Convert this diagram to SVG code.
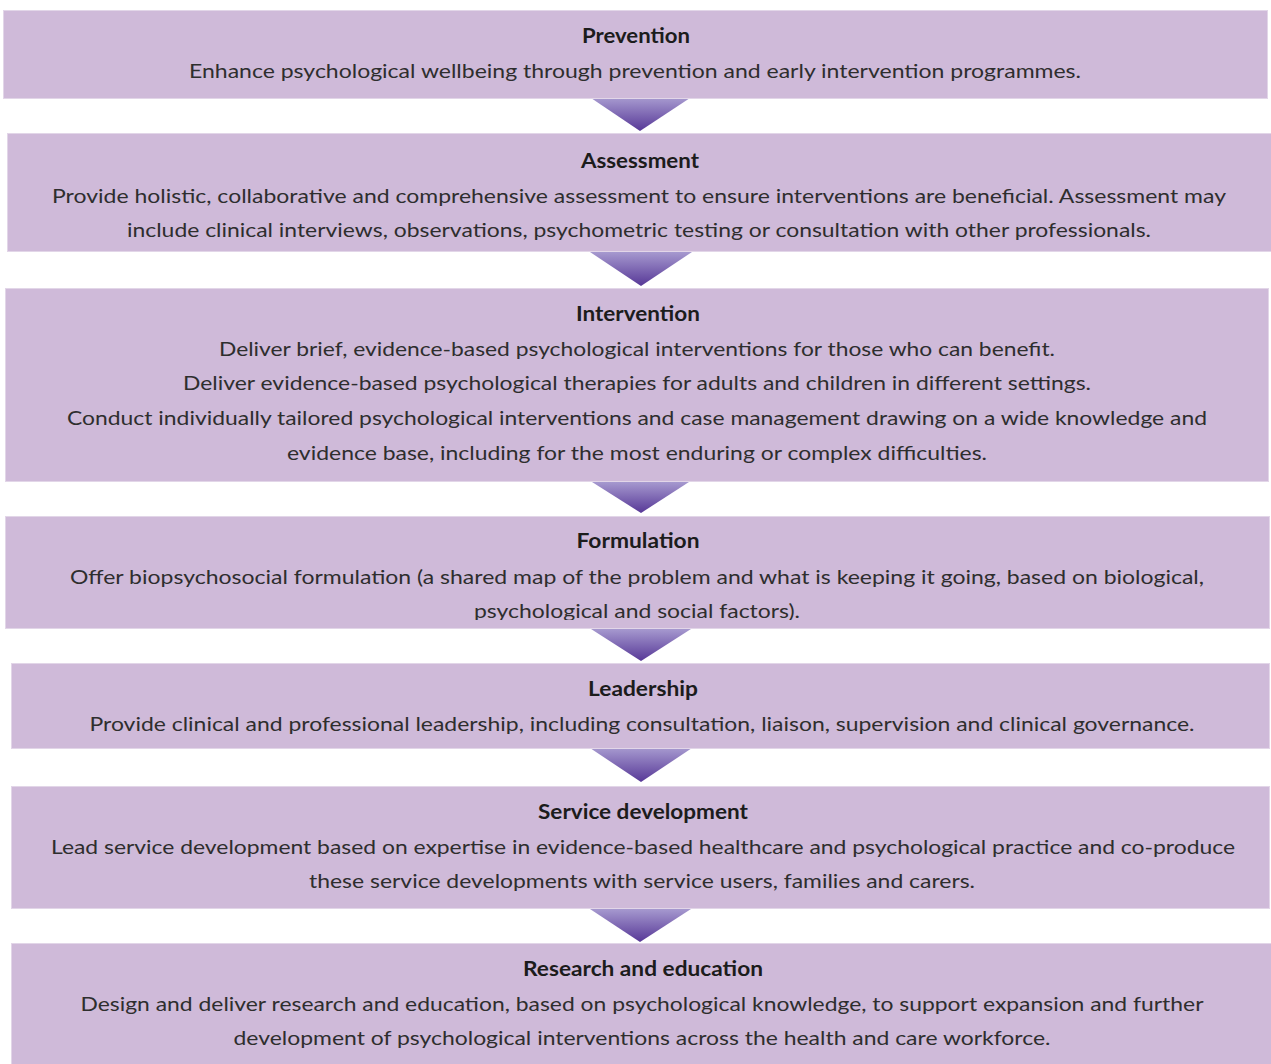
<svg xmlns="http://www.w3.org/2000/svg" width="1271" height="1064" viewBox="0 0 1271 1064">
  <style>
    .box { fill: #cfbad9; stroke: #e2d6e8; stroke-width: 1; }
    .head { font-family: Lato, "Open Sans", sans-serif; font-weight: bold; font-size: 20px; fill: #1c1c1c; text-anchor: middle; }
    .body { font-family: Lato, "Open Sans", sans-serif; font-size: 20px; fill: #2e2e2e; text-anchor: middle; }
    .arrow { fill: url(#arrowFill); }
  </style>
  <defs>
    <linearGradient id="arrowFill" x1="0" y1="0" x2="0" y2="1">
      <stop offset="0" stop-color="#a699cf"/>
      <stop offset="1" stop-color="#573897"/>
    </linearGradient>
    <!-- the last Formulation line is cut off at the bottom of its text frame -->
    <clipPath id="clipFormulation">
      <rect x="5" y="516" width="1265" height="104"/>
    </clipPath>
  </defs>
  <rect width="1271" height="1064" fill="#ffffff"/>

  <!-- flow arrows between stages -->
  <g id="connectors">
    <polygon class="arrow" points="591,98 690,98 640,131"/>
    <polygon class="arrow" points="590,252 692,252 641,286"/>
    <polygon class="arrow" points="592,482 689,482 641,513"/>
    <polygon class="arrow" points="591,629 691,629 641,661"/>
    <polygon class="arrow" points="590,748 692,748 641,782"/>
    <polygon class="arrow" points="590,909 691,909 640,942"/>
  </g>

  <g id="prevention">
    <rect class="box" x="3.5" y="10.5" width="1264" height="88"/>
    <text class="head" x="636" y="43" textLength="108" lengthAdjust="spacingAndGlyphs">Prevention</text>
    <text class="body" x="635" y="78" textLength="892" lengthAdjust="spacingAndGlyphs">Enhance psychological wellbeing through prevention and early intervention programmes.</text>
  </g>

  <g id="assessment">
    <rect class="box" x="7.5" y="133.5" width="1264" height="118"/>
    <text class="head" x="640" y="168" textLength="118" lengthAdjust="spacingAndGlyphs">Assessment</text>
    <text class="body" x="639" y="203" textLength="1174" lengthAdjust="spacingAndGlyphs">Provide holistic, collaborative and comprehensive assessment to ensure interventions are beneficial. Assessment may</text>
    <text class="body" x="639" y="237" textLength="1024" lengthAdjust="spacingAndGlyphs">include clinical interviews, observations, psychometric testing or consultation with other professionals.</text>
  </g>

  <g id="intervention">
    <rect class="box" x="5.5" y="288.5" width="1263" height="193"/>
    <text class="head" x="638" y="321" textLength="124" lengthAdjust="spacingAndGlyphs">Intervention</text>
    <text class="body" x="637" y="356" textLength="836" lengthAdjust="spacingAndGlyphs">Deliver brief, evidence-based psychological interventions for those who can benefit.</text>
    <text class="body" x="637" y="390" textLength="908" lengthAdjust="spacingAndGlyphs">Deliver evidence-based psychological therapies for adults and children in different settings.</text>
    <text class="body" x="637" y="425" textLength="1140" lengthAdjust="spacingAndGlyphs">Conduct individually tailored psychological interventions and case management drawing on a wide knowledge and</text>
    <text class="body" x="637" y="460" textLength="700" lengthAdjust="spacingAndGlyphs">evidence base, including for the most enduring or complex difficulties.</text>
  </g>

  <g id="formulation">
    <rect class="box" x="5.5" y="516.5" width="1264" height="112"/>
    <text class="head" x="638" y="548" textLength="123" lengthAdjust="spacingAndGlyphs">Formulation</text>
    <g clip-path="url(#clipFormulation)">
      <text class="body" x="637" y="584" textLength="1134" lengthAdjust="spacingAndGlyphs">Offer biopsychosocial formulation (a shared map of the problem and what is keeping it going, based on biological,</text>
      <text class="body" x="637" y="618" textLength="326" lengthAdjust="spacingAndGlyphs">psychological and social factors).</text>
    </g>
  </g>

  <g id="leadership">
    <rect class="box" x="11.5" y="663.5" width="1258" height="85"/>
    <text class="head" x="643" y="696" textLength="110" lengthAdjust="spacingAndGlyphs">Leadership</text>
    <text class="body" x="642" y="731" textLength="1105" lengthAdjust="spacingAndGlyphs">Provide clinical and professional leadership, including consultation, liaison, supervision and clinical governance.</text>
  </g>

  <g id="service-development">
    <rect class="box" x="11.5" y="786.5" width="1258" height="122"/>
    <text class="head" x="643" y="819" textLength="210" lengthAdjust="spacingAndGlyphs">Service development</text>
    <text class="body" x="643" y="854" textLength="1184" lengthAdjust="spacingAndGlyphs">Lead service development based on expertise in evidence-based healthcare and psychological practice and co-produce</text>
    <text class="body" x="642" y="888" textLength="666" lengthAdjust="spacingAndGlyphs">these service developments with service users, families and carers.</text>
  </g>

  <g id="research-education">
    <rect class="box" x="11.5" y="943.5" width="1260" height="130"/>
    <text class="head" x="643" y="976" textLength="240" lengthAdjust="spacingAndGlyphs">Research and education</text>
    <text class="body" x="642" y="1011" textLength="1123" lengthAdjust="spacingAndGlyphs">Design and deliver research and education, based on psychological knowledge, to support expansion and further</text>
    <text class="body" x="642" y="1045" textLength="817" lengthAdjust="spacingAndGlyphs">development of psychological interventions across the health and care workforce.</text>
  </g>
</svg>
